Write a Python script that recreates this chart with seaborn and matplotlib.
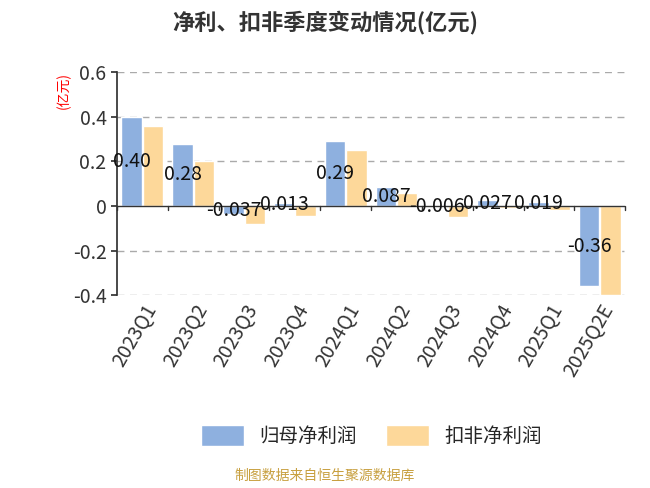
import matplotlib
matplotlib.use("Agg")
import matplotlib.pyplot as plt
import seaborn as sns
import pandas as pd
import numpy as np

categories = ["2023Q1","2023Q2","2023Q3","2023Q4","2024Q1","2024Q2","2024Q3","2024Q4","2025Q1","2025Q2E"]
net_profit = [0.40, 0.28, -0.037, 0.013, 0.29, 0.087, -0.006, 0.027, 0.019, -0.36]
deducted = [0.36, 0.20, -0.08, -0.045, 0.25, 0.06, -0.05, -0.01, -0.02, -0.40]
labels = ["0.40","0.28","-0.037","0.013","0.29","0.087","-0.006","0.027","0.019","-0.36"]

sns.set_theme(style="white")
plt.rcParams['font.family'] = ['Noto Sans CJK SC', 'DejaVu Sans']
plt.rcParams['axes.unicode_minus'] = False

df = pd.DataFrame({"q": categories * 2,
                   "v": net_profit + deducted,
                   "s": ["归母净利润"] * 10 + ["扣非净利润"] * 10})

fig = plt.figure(figsize=(6.5, 4.88), dpi=100)
ax = fig.add_axes([0.18, 0.395, 0.782, 0.457])
sns.barplot(data=df, x="q", y="v", hue="s", palette=["#8eb0df", "#fdd89a"],
            ax=ax, width=0.84, gap=0.04, saturation=1, legend=True)
ax.set_ylim(-0.4, 0.6)
ax.set_xlim(-0.5, 9.5)
ax.set_yticks([-0.4, -0.2, 0, 0.2, 0.4, 0.6])
ax.set_yticklabels(["-0.4", "-0.2", "0", "0.2", "0.4", "0.6"], fontsize=14, color="#333333")
for y in [-0.4, -0.2, 0.2, 0.4, 0.6]:
    ax.axhline(y, color="#aaaaaa", ls=(0, (5, 4)), lw=1, zorder=0)
ax.axhline(0, color="#333333", lw=1)
for s in ["top", "right", "bottom"]:
    ax.spines[s].set_visible(False)
ax.spines["left"].set_color("#333333")
ax.set_xlabel("")
ax.set_ylabel("(亿元)", color="red", fontsize=10, labelpad=-2)
ax.yaxis.set_label_coords(-0.09, 0.92)
ax.set_xticks(np.arange(10))
ax.set_xticklabels(categories, rotation=60, ha="right", rotation_mode="anchor", fontsize=14, color="#333333")
ax.tick_params(axis="x", pad=4)
for i in range(11):
    ax.plot([i - 0.5, i - 0.5], [0, -0.02], color="#333333", lw=1, clip_on=False)
ax.tick_params(axis="x", length=0)
ax.tick_params(axis="y", length=4, color="#333333", left=True)
for i, (v, t) in enumerate(zip(net_profit, labels)):
    ax.text(i - 0.21, v / 2, t, ha="center", va="center", fontsize=14, color="#111111", zorder=5)
ax.legend(loc="center", bbox_to_anchor=(0.5, -0.63), ncol=2, frameon=False,
          fontsize=14, handlelength=2.2, handleheight=1.3, columnspacing=1.5)
fig.text(0.5, 0.955, "净利、扣非季度变动情况(亿元)", ha="center", va="center", fontsize=16, fontweight="bold", color="#333333")
fig.text(0.5, 0.025, "制图数据来自恒生聚源数据库", ha="center", va="center", fontsize=10, color="#c8a040")
fig.savefig("out.png", dpi=100)
